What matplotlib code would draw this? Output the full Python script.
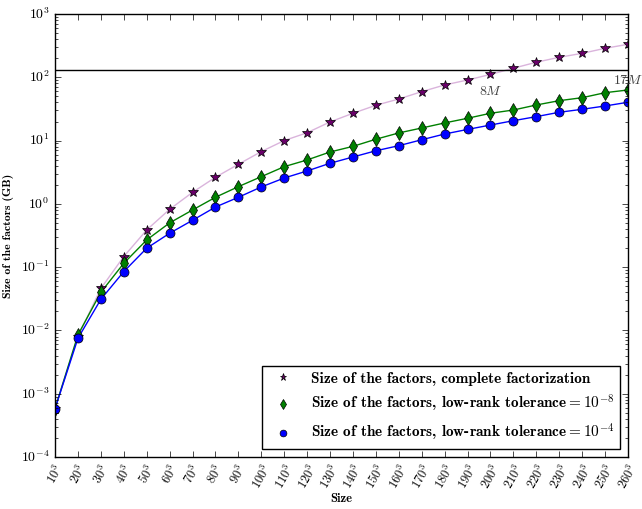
import matplotlib
matplotlib.use('Agg')
import matplotlib.pyplot as plt

plt.style.use('classic')
plt.rcParams['font.family'] = ['cmb10', 'DejaVu Serif']
plt.rcParams['mathtext.fontset'] = 'cm'
plt.rcParams['axes.unicode_minus'] = False

# problem size n (mesh n^3)
sizes = [10, 20, 30, 40, 50, 60, 70, 80, 90, 100, 110, 120, 130,
         140, 150, 160, 170, 180, 190, 200, 210, 220, 230, 240, 250, 260]

# size of the factors in GB
full = [5.8e-4, 8.0e-3, 0.046, 0.147, 0.387, 0.82, 1.52, 2.63, 4.22, 6.7,
        10.0, 13.3, 19.7, 27.0, 36.1, 45.4, 59.3, 75.6, 90.6, 111,
        139, 173, 207, 239, 287, 332]
lr_8 = [5.8e-4, 8.5e-3, 0.040, 0.115, 0.269, 0.50, 0.80, 1.27, 1.87, 2.69,
        3.87, 4.94, 6.6, 8.1, 10.5, 13.2, 15.8, 19.0, 22.5, 27.0,
        30.4, 36.5, 42.7, 47.6, 57.1, 63.0]
lr_4 = [5.8e-4, 7.5e-3, 0.031, 0.085, 0.199, 0.343, 0.55, 0.89, 1.27, 1.85,
        2.56, 3.31, 4.38, 5.5, 6.9, 8.3, 10.3, 12.7, 15.0, 17.6,
        20.6, 23.9, 28.0, 31.2, 35.2, 40.3]

mem_limit = 128

fig = plt.figure(figsize=(6.42, 5.09), dpi=100, facecolor='white')
ax = fig.add_axes([0.0857, 0.1022, 0.8925, 0.8703])

ax.plot(sizes, full, '-', color='#dab4dc', lw=1)
ax.plot(sizes, lr_8, '-', color='g', lw=1)
ax.plot(sizes, lr_4, '-', color='b', lw=1)
ax.plot(sizes, full, '*', color='#6a006a', mec='k', ms=7,
        label='Size of the factors, complete factorization')
ax.plot(sizes, lr_8, 'd', color='g', mec='k', ms=7,
        label=r'Size of the factors, low-rank tolerance$=10^{-8}$')
ax.plot(sizes, lr_4, 'o', color='b', mec='k', ms=6.5,
        label=r'Size of the factors, low-rank tolerance$=10^{-4}$')

ax.axhline(mem_limit, color='k', lw=1)
ax.text(200, 60, '$8M$', ha='center', va='center', fontsize=10, color='0.25')
ax.text(260, 88, '$17M$', ha='center', va='center', fontsize=10, color='0.25')

ax.set_yscale('log')
ax.set_xlim(10, 260)
ax.set_ylim(1e-4, 1e3)
ax.set_xticks(sizes)
ax.set_xticklabels([r'$%d^3$' % s for s in sizes], rotation=60, fontsize=9)
ax.set_yticks([10.0 ** k for k in range(-4, 4)])
ax.set_yticklabels([r'$\mathbf{10^{%d}}$' % k for k in range(-4, 4)], fontsize=10)

ax.set_xlabel('Size', fontsize=9, labelpad=1)
ax.set_ylabel('Size of the factors (GB)', fontsize=8.5)

ax.legend(loc='lower right', numpoints=1, fontsize=11, borderaxespad=0.5,
          markerscale=0.75, frameon=True, fancybox=False)

fig.savefig('out.png', dpi=100, facecolor='white')
